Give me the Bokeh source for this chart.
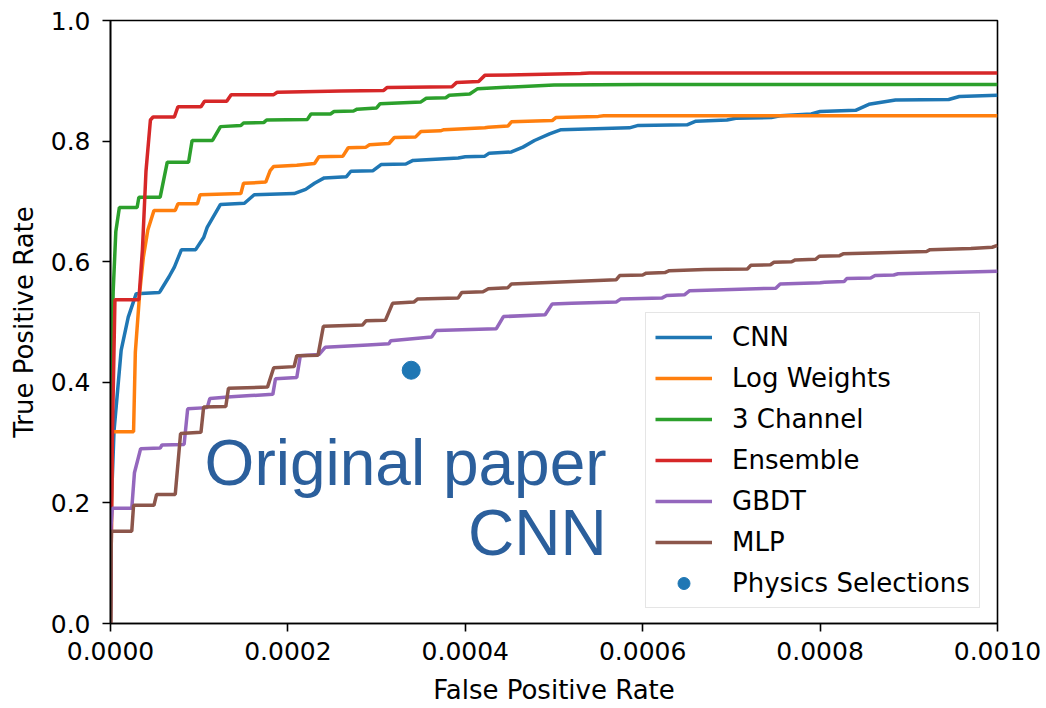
import numpy as np
from bokeh.plotting import figure
from bokeh.models import (Range1d, FixedTicker, PrintfTickFormatter, Legend,
                          LegendItem, Label)
from bokeh.embed import file_html
from bokeh.resources import INLINE

# ---- data (FPR values written in units of 1e-4) ----
series_names = ["CNN", "Log Weights", "3 Channel", "Ensemble", "GBDT", "MLP"]
series_colors = ["#1f77b4", "#ff7f0e", "#2ca02c", "#d62728", "#9467bd", "#8c564b"]

cnn_fpr = [0, 0.01, 0.04, 0.08, 0.12, 0.2, 0.29, 0.55, 0.56, 0.66, 0.72, 0.80, 0.96,
           1.05, 1.09, 1.24, 1.51, 1.62, 2.07, 2.2, 2.3, 2.41, 2.66, 2.71, 2.96, 3.05,
           3.33, 3.41, 3.92, 4.0, 4.22, 4.27, 4.52, 4.65, 4.78, 4.95, 5.08, 5.85, 5.95,
           6.5, 6.6, 6.95, 7.05, 7.45, 7.55, 7.9, 8.0, 8.4, 8.55, 8.85, 9.45, 9.57, 10.0]
cnn_tpr = [0, 0.2, 0.32, 0.386, 0.453, 0.508, 0.547, 0.549, 0.551, 0.575, 0.591, 0.620, 0.620,
           0.640, 0.657, 0.695, 0.697, 0.711, 0.713, 0.720, 0.730, 0.739, 0.741, 0.750, 0.751, 0.761,
           0.762, 0.768, 0.772, 0.774, 0.775, 0.780, 0.782, 0.790, 0.801, 0.812, 0.819, 0.822, 0.826,
           0.827, 0.833, 0.835, 0.838, 0.839, 0.842, 0.845, 0.849, 0.851, 0.861, 0.868, 0.869, 0.874, 0.876]

logw_fpr = [0, 0.02, 0.26, 0.28, 0.33, 0.37, 0.42, 0.49, 0.73, 0.76, 0.98, 1.01, 1.47, 1.50,
            1.75, 1.80, 1.84, 2.1, 2.30, 2.35, 2.62, 2.68, 2.88, 2.92, 3.14, 3.2, 3.44, 3.5,
            3.72, 3.76, 4.22, 4.26, 4.48, 4.52, 4.98, 5.02, 5.5, 5.56, 10.0]
logw_tpr = [0, 0.318, 0.318, 0.45, 0.55, 0.607, 0.652, 0.685, 0.685, 0.696, 0.696, 0.711, 0.713, 0.730,
            0.732, 0.751, 0.758, 0.760, 0.763, 0.774, 0.775, 0.789, 0.790, 0.794, 0.796, 0.806, 0.807, 0.816,
            0.817, 0.819, 0.822, 0.823, 0.825, 0.832, 0.834, 0.839, 0.841, 0.842, 0.842]

ch3_fpr = [0, 0.005, 0.03, 0.06, 0.1, 0.30, 0.32, 0.56, 0.64, 0.88, 0.92, 1.15, 1.24, 1.47,
           1.5, 1.73, 1.76, 2.22, 2.26, 2.48, 2.52, 2.74, 2.78, 3.0, 3.04, 3.5, 3.56, 3.78,
           3.82, 4.05, 4.14, 5.0, 6.0, 10.0]
ch3_tpr = [0, 0.37, 0.55, 0.65, 0.69, 0.69, 0.707, 0.707, 0.765, 0.765, 0.801, 0.801, 0.824, 0.826,
           0.830, 0.831, 0.835, 0.836, 0.845, 0.845, 0.849, 0.850, 0.853, 0.855, 0.862, 0.865, 0.871, 0.872,
           0.876, 0.878, 0.887, 0.893, 0.894, 0.894]

ens_fpr = [0, 0.02, 0.05, 0.32, 0.36, 0.40, 0.45, 0.48, 0.72, 0.76, 1.02, 1.06, 1.31, 1.36,
           1.84, 1.88, 2.6, 3.08, 3.12, 3.85, 3.9, 4.15, 4.22, 5.3, 5.4, 10.0]
ens_tpr = [0, 0.30, 0.537, 0.537, 0.62, 0.75, 0.835, 0.84, 0.84, 0.857, 0.857, 0.866, 0.866, 0.877,
           0.877, 0.881, 0.883, 0.884, 0.889, 0.890, 0.897, 0.899, 0.909, 0.912, 0.913, 0.913]

gbdt_fpr = [0, 0.005, 0.02, 0.24, 0.27, 0.34, 0.56, 0.58, 0.83, 0.87, 1.09, 1.12, 1.36, 1.58,
            1.83, 1.86, 2.1, 2.14, 2.35, 2.42, 2.9, 3.14, 3.16, 3.62, 3.67, 4.35, 4.43, 4.9,
            4.98, 5.2, 5.7, 5.75, 6.22, 6.27, 6.47, 6.53, 7.0, 7.5, 7.55, 8.0, 8.05, 8.27,
            8.3, 8.57, 8.62, 8.83, 8.88, 10.0]
gbdt_tpr = [0, 0.16, 0.191, 0.191, 0.25, 0.290, 0.291, 0.296, 0.297, 0.356, 0.358, 0.373, 0.376, 0.378,
            0.380, 0.406, 0.408, 0.444, 0.446, 0.458, 0.462, 0.464, 0.469, 0.475, 0.486, 0.489, 0.509, 0.512,
            0.530, 0.531, 0.533, 0.538, 0.540, 0.544, 0.545, 0.552, 0.554, 0.556, 0.563, 0.565, 0.566, 0.567,
            0.572, 0.573, 0.577, 0.578, 0.580, 0.584]

mlp_fpr = [0, 0.01, 0.24, 0.26, 0.49, 0.52, 0.73, 0.79, 1.02, 1.05, 1.30, 1.33, 1.77, 1.84,
           2.07, 2.1, 2.34, 2.40, 2.84, 2.88, 3.1, 3.18, 3.42, 3.46, 3.92, 3.96, 4.2, 4.26,
           4.48, 4.52, 5.7, 5.74, 6.0, 6.04, 6.25, 6.3, 6.7, 7.18, 7.22, 7.44, 7.48, 7.68,
           7.72, 7.95, 7.99, 8.22, 8.26, 8.7, 9.2, 9.24, 9.7, 9.94, 10.0]
mlp_tpr = [0, 0.153, 0.153, 0.196, 0.196, 0.214, 0.214, 0.315, 0.317, 0.359, 0.360, 0.390, 0.392, 0.424,
           0.426, 0.444, 0.445, 0.493, 0.495, 0.502, 0.503, 0.531, 0.533, 0.538, 0.540, 0.549, 0.550, 0.555,
           0.557, 0.563, 0.570, 0.577, 0.578, 0.581, 0.582, 0.585, 0.587, 0.588, 0.594, 0.595, 0.599, 0.600,
           0.603, 0.604, 0.609, 0.610, 0.613, 0.615, 0.617, 0.620, 0.622, 0.624, 0.627]

physics_fpr = [3.39]
physics_tpr = [0.42]

x_ticks = [0.0, 0.0002, 0.0004, 0.0006, 0.0008, 0.0010]
y_ticks = [0.0, 0.2, 0.4, 0.6, 0.8, 1.0]
annotation_lines = ["Original paper", "CNN"]

FPR_UNIT = 1e-4
curves = [(cnn_fpr, cnn_tpr), (logw_fpr, logw_tpr), (ch3_fpr, ch3_tpr),
          (ens_fpr, ens_tpr), (gbdt_fpr, gbdt_tpr), (mlp_fpr, mlp_tpr)]

FONT = "DejaVu Sans"

p = figure(width=1046, height=708, frame_width=887, frame_height=603,
           output_backend="svg", toolbar_location=None,
           x_range=Range1d(0, 0.001), y_range=Range1d(0, 1.0),
           min_border_left=110, min_border_right=49, min_border_top=20, min_border_bottom=85)
p.background_fill_color = "white"
p.border_fill_color = "white"
p.xgrid.visible = False
p.ygrid.visible = False
p.outline_line_color = "black"
p.outline_line_width = 1.6
p.outline_line_alpha = 1.0

items = []
for (fx, ty), name, col in zip(curves, series_names, series_colors):
    r = p.line(np.array(fx) * FPR_UNIT, ty, line_color=col, line_width=3.5)
    items.append(LegendItem(label=name, renderers=[r]))

sc = p.scatter(np.array(physics_fpr) * FPR_UNIT, physics_tpr, size=18,
               fill_color="#1f77b4", line_color="#1f77b4", marker="circle")
items.append(LegendItem(label="Physics Selections", renderers=[sc]))

# axes
p.xaxis.ticker = FixedTicker(ticks=x_ticks)
p.yaxis.ticker = FixedTicker(ticks=y_ticks)
p.xaxis.formatter = PrintfTickFormatter(format="%.4f")
p.yaxis.formatter = PrintfTickFormatter(format="%.1f")
p.xaxis.axis_label = "False Positive Rate"
p.yaxis.axis_label = "True Positive Rate"
for ax in (p.xaxis, p.yaxis):
    ax.major_label_text_font = FONT
    ax.major_label_text_font_size = "25px"
    ax.major_label_text_color = "black"
    ax.axis_label_text_font = FONT
    ax.axis_label_text_font_size = "26px"
    ax.axis_label_text_font_style = "normal"
    ax.axis_label_text_color = "black"
    ax.major_tick_out = 8
    ax.major_tick_in = 0
    ax.major_tick_line_width = 1.6
    ax.major_tick_line_color = "black"
    ax.minor_tick_line_color = None
    ax.axis_line_width = 1.6
    ax.axis_line_color = "black"
p.xaxis.major_label_standoff = 10
p.yaxis.major_label_standoff = 12
p.xaxis.axis_label_standoff = 12
p.yaxis.axis_label_standoff = 9

# annotation text
ann_color = "#2b5f9c"
for txt, yv in zip(annotation_lines, [0.2654, 0.1493]):
    p.add_layout(Label(x=5.593e-4, y=yv, text=txt, text_align="right",
                       text_baseline="alphabetic", text_font="Liberation Sans",
                       text_font_size="64px", text_color=ann_color))

legend = Legend(items=items, location=(535, 15))
legend.label_text_font = FONT
legend.label_text_font_size = "26px"
legend.label_text_color = "black"
legend.label_height = 30
legend.glyph_height = 30
legend.glyph_width = 57
legend.label_standoff = 20
legend.spacing = 11
legend.padding = 9
legend.margin = 0
legend.border_line_color = "#cccccc"
legend.border_line_width = 1.5
legend.background_fill_color = "white"
legend.background_fill_alpha = 0.8
p.add_layout(legend, "center")

open("out.html", "w").write(file_html(p, INLINE))
